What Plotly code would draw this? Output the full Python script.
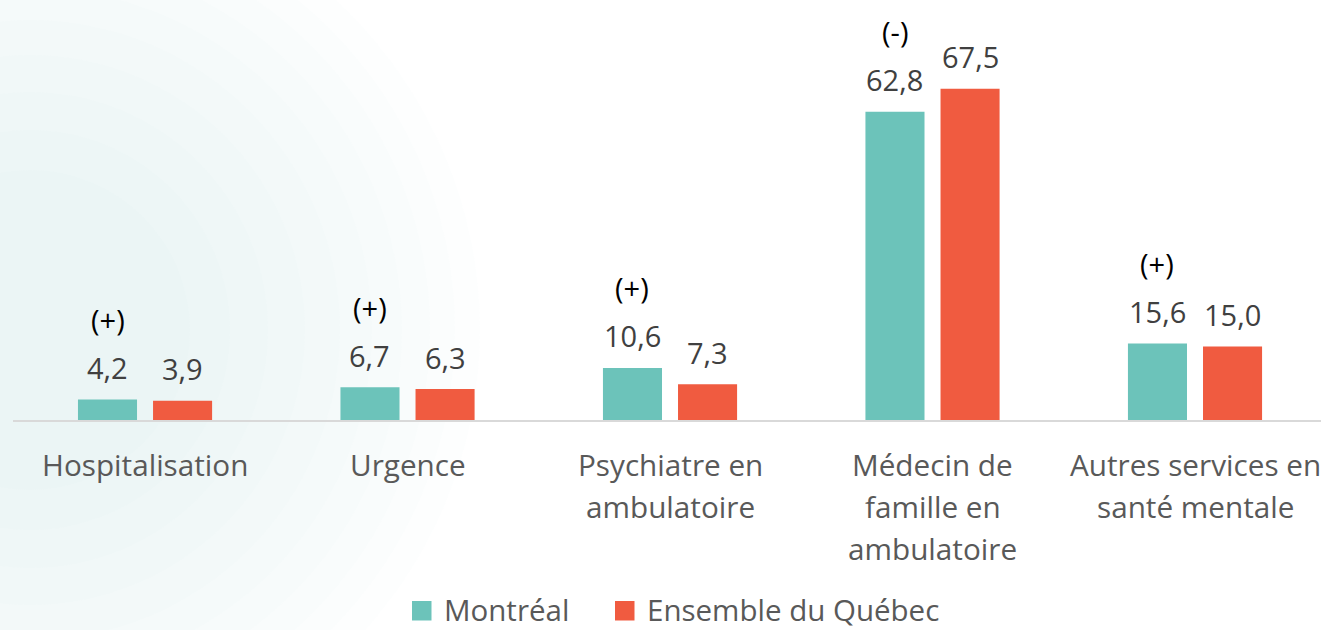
import plotly.graph_objects as go

# Catégories de services (lignes des étiquettes)
categories = [
    ["Hospitalisation"],
    ["Urgence"],
    ["Psychiatre en", "ambulatoire"],
    ["Médecin de", "famille en", "ambulatoire"],
    ["Autres services en", "santé mentale"],
]
montreal = [4.2, 6.7, 10.6, 62.8, 15.6]
quebec = [3.9, 6.3, 7.3, 67.5, 15.0]
signif = ["(+)", "(+)", "(+)", "(-)", "(+)"]

series_names = ["Montréal", "Ensemble du Québec"]
colors = ["#6cc3ba", "#f05b40"]

W, H = 1321, 630
ML, MB = 13, 210
PW, PH = W - ML, H - MB
FONT = "Open Sans, sans-serif"


def fmt(v):
    return f"{v:.1f}".replace(".", ",")


def px_x(px):
    return (px - ML) / PW


def px_y(py):
    return (PH - py) / PH


idx = list(range(len(categories)))
offset = 0.143
bar_w = 0.225

fig = go.Figure()
for name, vals, col, sgn in ((series_names[0], montreal, colors[0], -1),
                             (series_names[1], quebec, colors[1], 1)):
    fig.add_trace(go.Bar(
        x=[i + sgn * offset for i in idx], y=vals, width=bar_w,
        name=name, marker=dict(color=col, line=dict(width=0)),
        showlegend=False,
    ))

annotations = []
value_font = dict(family=FONT, size=29, color="#404040")
for i in idx:
    for xv, v in ((i - offset, montreal[i]), (i + offset, quebec[i])):
        annotations.append(dict(
            x=xv, y=v, xref="x", yref="y", text=fmt(v), showarrow=False,
            yanchor="middle", yshift=32, font=value_font,
        ))
    annotations.append(dict(
        x=i - offset, y=montreal[i], xref="x", yref="y", text=signif[i],
        showarrow=False, yanchor="middle", yshift=80,
        font=dict(family=FONT, size=29, color="#000000"),
    ))
    for k, line in enumerate(categories[i]):
        annotations.append(dict(
            x=i, y=0, xref="x", yref="paper", text=line, showarrow=False,
            yanchor="middle", yshift=-44 - 42 * k,
            font=dict(family=FONT, size=29.7, color="#595959"),
        ))

shapes = []

# Décor : halo pâle en cercles concentriques à gauche
cx, cy = px_x(30), px_y(330)
for r in (450, 425, 400, 372, 342, 310, 275, 238, 200, 160):
    shapes.append(dict(
        type="circle", xref="paper", yref="paper",
        xsizemode="pixel", ysizemode="pixel",
        xanchor=cx, yanchor=cy,
        x0=-r, x1=r, y0=-r, y1=r,
        fillcolor="rgba(200,228,228,0.035)", line=dict(width=0),
        layer="below",
    ))

# Légende
legend_items = [(series_names[0], colors[0], 412), (series_names[1], colors[1], 615)]
ly = 609
for name, col, sx in legend_items:
    shapes.append(dict(
        type="rect", xref="paper", yref="paper",
        x0=px_x(sx), x1=px_x(sx + 19.5), y0=px_y(ly - 8), y1=px_y(ly + 11.5),
        fillcolor=col, line=dict(width=0),
    ))
    annotations.append(dict(
        x=px_x(sx + 30), y=px_y(ly), xref="paper", yref="paper",
        text=name, showarrow=False, xanchor="left", yanchor="middle",
        font=dict(family=FONT, size=29.5, color="#595959"),
    ))

fig.update_layout(
    width=W, height=H,
    margin=dict(l=ML, r=0, t=0, b=MB, autoexpand=False),
    paper_bgcolor="#ffffff", plot_bgcolor="rgba(0,0,0,0)",
    barmode="overlay",
    showlegend=False,
    xaxis=dict(
        range=[-0.503, 4.48], showgrid=False, zeroline=False,
        showticklabels=False, ticks="", showline=True,
        linecolor="#d9d9d9", linewidth=2, fixedrange=True,
    ),
    yaxis=dict(
        range=[0, 85.6], showgrid=False, zeroline=False, visible=False,
        fixedrange=True,
    ),
    annotations=annotations,
    shapes=shapes,
)

fig.write_html("out.html")
